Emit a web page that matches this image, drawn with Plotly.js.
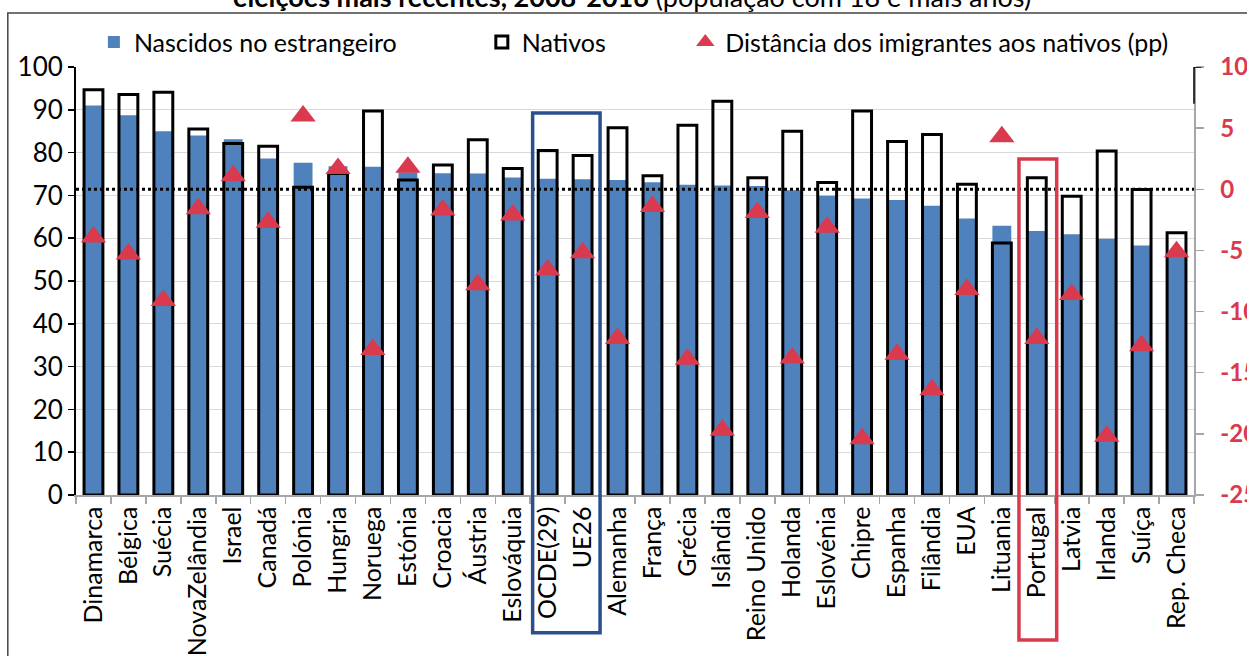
<!DOCTYPE html>
<html><head><meta charset="utf-8">
<script src="https://cdn.plot.ly/plotly-3.0.1.min.js"></script>
<style>html,body{margin:0;padding:0;background:#fff}#c{width:1247px;height:656px}</style>
</head><body><div id="c"></div>
<script>
const categories = ["Dinamarca","Bélgica","Suécia","NovaZelândia","Israel","Canadá","Polónia","Hungria","Noruega","Estónia","Croacia","Áustria","Eslováquia","OCDE(29)","UE26","Alemanha","França","Grécia","Islândia","Reino Unido","Holanda","Eslovénia","Chipre","Espanha","Filândia","EUA","Lituania","Portugal","Latvia","Irlanda","Suíça","Rep. Checa"];
const foreignBorn = [91.0,88.7,85.0,84.0,83.1,78.6,77.6,76.8,76.7,75.4,75.2,75.1,74.2,73.9,73.8,73.6,73.1,72.5,72.3,72.2,71.2,69.9,69.3,68.9,67.6,64.6,62.9,61.7,60.9,59.9,58.3,56.0];
const natives = [94.7,93.6,94.1,85.5,82.1,81.5,71.9,75.1,89.7,73.6,77.1,83.0,76.3,80.5,79.3,85.8,74.6,86.4,92.0,74.1,85.0,73.0,89.7,82.6,84.2,72.6,58.9,74.1,69.8,80.4,71.4,61.3];
const gapPP = [-3.9,-5.3,-9.1,-1.6,1.1,-2.7,6.0,1.7,-13.1,1.8,-1.7,-7.8,-2.1,-6.6,-5.2,-12.2,-1.4,-13.9,-19.7,-1.9,-13.8,-3.1,-20.4,-13.5,-16.4,-8.2,4.3,-12.2,-8.6,-20.2,-12.8,-5.1];
const leftTicks = [0,10,20,30,40,50,60,70,80,90,100];
const rightTicks = [-25,-20,-15,-10,-5,0,5,10];

const FONT = "Lato, 'Open Sans', sans-serif";
const BLUE = "#4f81bd", RED = "#d93a4e";

const traces = [
  {type:"bar", name:"Nascidos no estrangeiro", x:categories, y:foreignBorn, width:0.54,
   marker:{color:BLUE, line:{width:0}}, legend:"legend"},
  {type:"bar", name:"Nativos", x:categories, y:natives, width:0.54,
   marker:{color:"rgba(0,0,0,0)", line:{color:"#000", width:3}}, legend:"legend2"},
  {type:"scatter", mode:"markers", name:"Distância dos imigrantes aos nativos (pp)", x:categories, y:gapPP, yaxis:"y2",
   marker:{symbol:"triangle-up", size:22, color:RED}, legend:"legend3"}
];

const iO = categories.indexOf("OCDE(29)"), iU = categories.indexOf("UE26"), iP = categories.indexOf("Portugal");
const legFont = {size:25};

const layout = {
  width:1247, height:656,
  margin:{l:76, r:53, t:67, b:161},
  paper_bgcolor:"#fff", plot_bgcolor:"#fff",
  barmode:"overlay",
  font:{family:FONT, size:22, color:"#000"},
  xaxis:{type:"category", tickangle:-90, tickfont:{size:25}, showgrid:false,
    showline:true, linecolor:"#a6a6a6", linewidth:1.5, ticks:"outside", tickson:"boundaries",
    ticklen:7, tickcolor:"#a6a6a6", tickwidth:1.5, automargin:false, range:[-0.5, categories.length-0.5]},
  yaxis:{range:[0,100], tickvals:leftTicks, showgrid:true, gridcolor:"#d9d9d9", gridwidth:1,
    showline:true, linecolor:"#000", linewidth:2, ticks:"outside", ticklen:6, tickcolor:"#000", tickwidth:1.5,
    tickfont:{size:26}, zeroline:false, automargin:false},
  yaxis2:{overlaying:"y", side:"right", range:[-25,10], tickvals:rightTicks, ticktext:rightTicks.map(String),
    showgrid:false, zeroline:false,
    showline:true, linecolor:"#a6a6a6", linewidth:1.5, ticks:"outside", ticklen:8, tickcolor:"#a6a6a6", tickwidth:1.5,
    ticklabelstandoff:12, tickfont:{size:24, color:RED, weight:"bold"}, automargin:false},
  showlegend:true,
  legend:{orientation:"h", x:0.016, xanchor:"left", y:1.058, yanchor:"middle", font:legFont, bgcolor:"rgba(0,0,0,0)"},
  legend2:{orientation:"h", x:0.363, xanchor:"left", y:1.058, yanchor:"middle", font:legFont, bgcolor:"rgba(0,0,0,0)"},
  legend3:{orientation:"h", x:0.545, xanchor:"left", y:1.058, yanchor:"middle", font:legFont, bgcolor:"rgba(0,0,0,0)"},
  annotations:[
    {xref:"paper", yref:"paper", x:0.497, y:1.121, xanchor:"center", yanchor:"bottom", showarrow:false,
     text:"<b>eleições mais recentes, 2008-2016</b> (população com 18 e mais anos)", font:{size:27}}
  ],
  shapes:[
    {type:"rect", xref:"paper", yref:"paper", x0:-0.061, x1:1.2, y0:-0.6, y1:1.126, line:{color:"#444", width:1.5}, fillcolor:"rgba(0,0,0,0)", layer:"below"},
    {type:"line", xref:"paper", yref:"y2", x0:0, x1:1, y0:0, y1:0, line:{color:"#000", width:3, dash:"dot"}, layer:"above"},
    {type:"line", xref:"paper", yref:"y2", x0:1, x1:1, y0:10, y1:7, line:{color:"#000", width:1.5}},
    {type:"line", xref:"paper", yref:"y2", x0:1, x1:1.0065, y0:10, y1:10, line:{color:"#000", width:1.5}},
    {type:"rect", xref:"x", yref:"paper", x0:iO-0.43, x1:iU+0.5, y0:-0.322, y1:0.8925, line:{color:"#2b4f8c", width:3.5}, fillcolor:"rgba(0,0,0,0)"},
    {type:"rect", xref:"x", yref:"paper", x0:iP-0.51, x1:iP+0.57, y0:-0.339, y1:0.785, line:{color:RED, width:3.5}, fillcolor:"rgba(0,0,0,0)"}
  ]
};

Plotly.newPlot("c", traces, layout, {displayModeBar:false, staticPlot:true});
</script></body></html>
